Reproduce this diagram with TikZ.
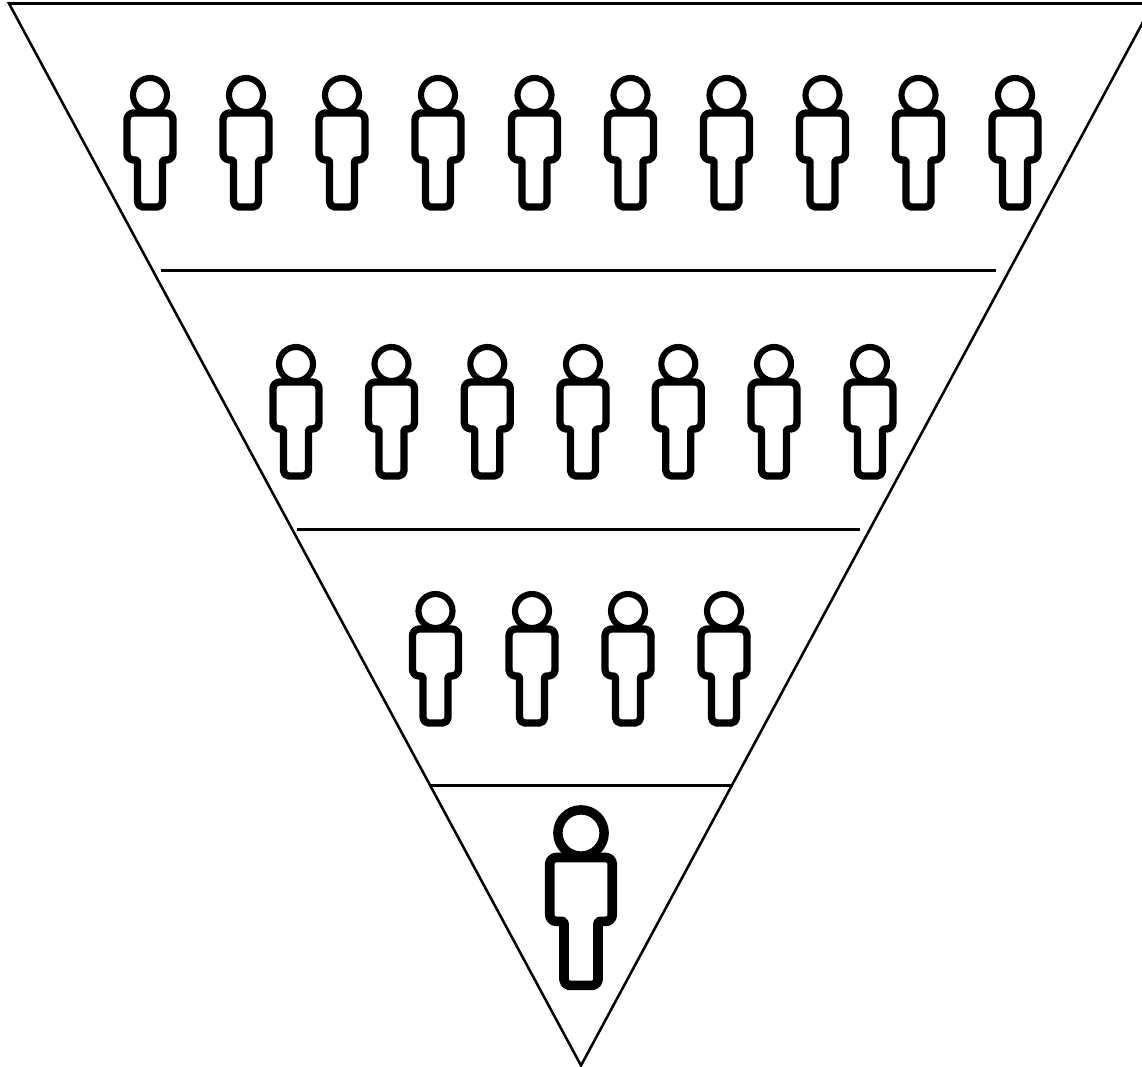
\documentclass[tikz,border=0pt]{standalone}
\tikzset{
  headring/.style={},
  person/.pic={
    \draw (-23,40) [rounded corners=5] -- (-23,18) -- (23,18) -- (23,65) [rounded corners=1.5] -- (12.5,65) [rounded corners=4] -- (12.5,112) -- (-12.5,112) [rounded corners=1.5] -- (-12.5,65) [rounded corners=5] -- (-23,65) -- cycle;
    \draw[headring] (0,0) circle[radius=17];
  },
  smallperson/.style={line width=5.5pt,line join=round,headring/.style={line width=4.6pt}},
  bigperson/.style={line width=7.2pt,line join=round,scale=1.36,headring/.style={line width=7.1pt}},
  funnel/.style={line width=1.9pt,line join=miter},
  divider/.style={line width=1.6pt}
}
\begin{document}
\begin{tikzpicture}[x=0.75pt,y=-0.75pt]
\useasboundingbox (0,0) rectangle (1142,1067);
\clip (0,0) rectangle (1142,1067);
\coordinate (tl) at (9,3.5);
\coordinate (tr) at (1153,3.5);
\coordinate (apex) at (581,1065.5);
\draw[funnel] (tl) -- (tr) -- (apex) -- cycle;
\coordinate (a1) at (161,270.5); \coordinate (b1) at (996,270.5);
\coordinate (a2) at (297,529.5); \coordinate (b2) at (860,529.5);
\coordinate (a3) at (430,785.5); \coordinate (b3) at (733,785.5);
\draw[divider] (a1) -- (b1);
\draw[divider] (a2) -- (b2);
\draw[divider] (a3) -- (b3);
\foreach \x in {150,246,342,438,534.5,630.5,726.5,822.5,918.5,1015}
  \pic[smallperson] at (\x,95) {person};
\foreach \x in {296,391.5,487.3,583,678.3,774,870}
  \pic[smallperson] at (\x,364) {person};
\foreach \x in {435.5,532,628,724}
  \pic[smallperson] at (\x,611) {person};
\pic[bigperson] at (581,833) {person};
\end{tikzpicture}
\end{document}
